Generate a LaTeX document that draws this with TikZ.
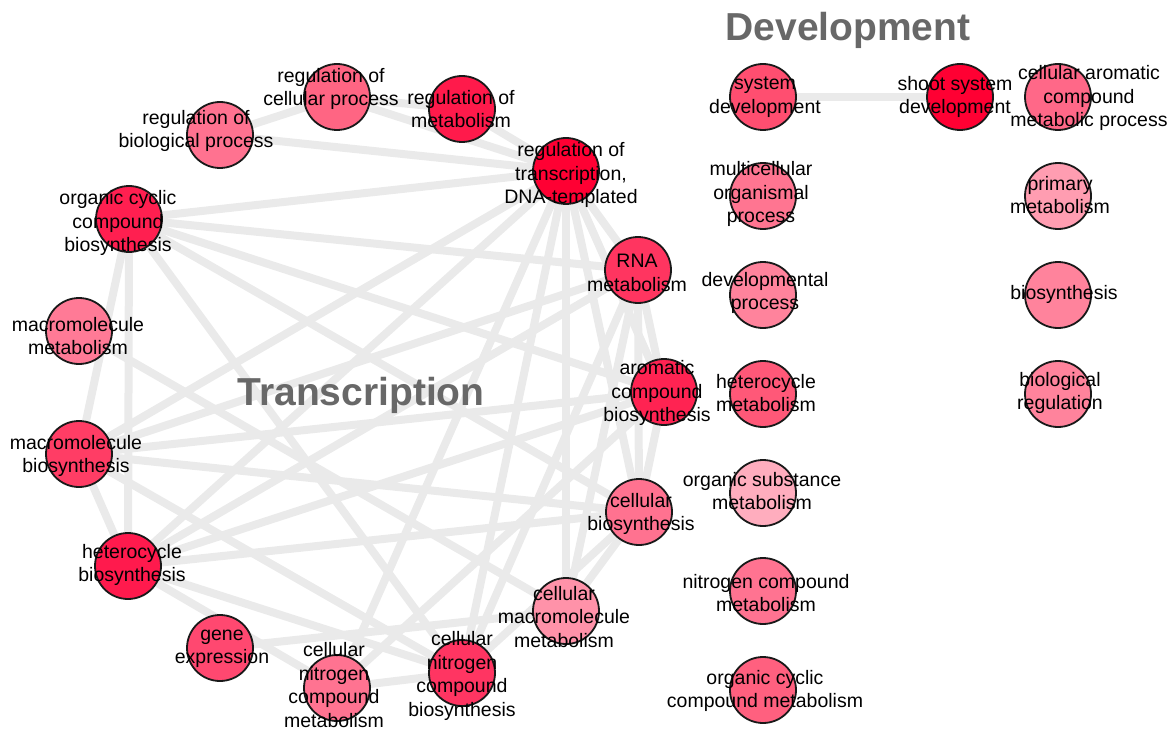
\documentclass[tikz,border=0pt]{standalone}
\usepackage{fontspec}
\setmainfont{Liberation Sans}
\pgfdeclarelayer{bg}
\pgfsetlayers{bg,main}
\definecolor{edgec}{HTML}{EAEAEA}
\definecolor{titc}{HTML}{686868}
\definecolor{cRT}{HTML}{FF0033}
\definecolor{cSSD}{HTML}{FF0033}
\definecolor{cRM}{HTML}{FF1A4B}
\definecolor{cHB}{HTML}{FF1A4D}
\definecolor{cOCCB}{HTML}{FF1F50}
\definecolor{cACB}{HTML}{FF2352}
\definecolor{cRNA}{HTML}{FF3560}
\definecolor{cCNCB}{HTML}{FF3562}
\definecolor{cMB}{HTML}{FF3D65}
\definecolor{cGE}{HTML}{FF4870}
\definecolor{cSD}{HTML}{FF4E70}
\definecolor{cHM}{HTML}{FF5878}
\definecolor{cOCCM}{HTML}{FF607F}
\definecolor{cRCP}{HTML}{FF6583}
\definecolor{cCAC}{HTML}{FF6888}
\definecolor{cRBP}{HTML}{FF7290}
\definecolor{cCB}{HTML}{FF7290}
\definecolor{cCNCM}{HTML}{FF7391}
\definecolor{cMOP}{HTML}{FF7591}
\definecolor{cNCM}{HTML}{FF7391}
\definecolor{cMM}{HTML}{FF7A96}
\definecolor{cDP}{HTML}{FF839C}
\definecolor{cBS}{HTML}{FF839C}
\definecolor{cBR}{HTML}{FF839C}
\definecolor{cCMM}{HTML}{FF92A9}
\definecolor{cPM}{HTML}{FF9DB1}
\definecolor{cOSM}{HTML}{FFADBE}
\begin{document}
\begin{tikzpicture}[x=1pt,y=-1pt,
  term/.style={circle,draw=black!90,line width=1.8pt,minimum size=66pt,inner sep=0pt},
  lab/.style={align=center,inner sep=0pt,font=\fontsize{19.5}{23.5}\selectfont,text=black},
  link/.style={draw=edgec,line width=8pt},
  title/.style={font=\fontsize{39}{44}\selectfont\bfseries,text=titc,inner sep=0pt}]
\useasboundingbox (0,0) rectangle (1172,730);
% Transcription cluster
\node[term,fill=cRBP]  (rbp)  at (220,135) {};
\node[term,fill=cRCP]  (rcp)  at (337,97)  {};
\node[term,fill=cRM]   (rm)   at (462,109) {};
\node[term,fill=cRT]   (rt)   at (566,171) {};
\node[term,fill=cRNA]  (rna)  at (638,270) {};
\node[term,fill=cACB]  (acb)  at (664,392) {};
\node[term,fill=cCB]   (cb)   at (639,512) {};
\node[term,fill=cCMM]  (cmm)  at (566,611) {};
\node[term,fill=cCNCB] (cncb) at (462,673) {};
\node[term,fill=cCNCM] (cncm) at (337,688) {};
\node[term,fill=cGE]   (ge)   at (220,648) {};
\node[term,fill=cHB]   (hb)   at (128,566) {};
\node[term,fill=cMB]   (mb)   at (79,454)  {};
\node[term,fill=cMM]   (mm)   at (79,331)  {};
\node[term,fill=cOCCB] (occb) at (129,219) {};
% Development cluster
\node[term,fill=cSD]   (sd)   at (763,97)  {};
\node[term,fill=cSSD]  (ssd)  at (960,97)  {};
\node[term,fill=cCAC]  (cac)  at (1058,97) {};
\node[term,fill=cMOP]  (mop)  at (763,196) {};
\node[term,fill=cPM]   (pm)   at (1058,196) {};
\node[term,fill=cDP]   (dp)   at (763,295) {};
\node[term,fill=cBS]   (bs)   at (1058,295) {};
\node[term,fill=cHM]   (hm)   at (763,394) {};
\node[term,fill=cBR]   (br)   at (1058,394) {};
\node[term,fill=cOSM]  (osm)  at (763,493) {};
\node[term,fill=cNCM]  (ncm)  at (763,591) {};
\node[term,fill=cOCCM] (occm) at (763,690) {};
% edges
\begin{pgfonlayer}{bg}
\foreach \a/\b in {rbp/rcp, rbp/rt, rcp/rm, rcp/rt, rm/rt,
  occb/rt, occb/rna, occb/acb, occb/cb, occb/cncb, occb/hb, occb/mb,
  mm/cmm, mb/rt, mb/acb, mb/cb, mb/hb, mb/cncb, mb/rna,
  hb/rt, hb/rna, hb/acb, hb/cb, hb/cncb, hb/cncm, ge/cmm,
  cncm/rt, cncm/cncb, acb/cncm, rt/cncb, rt/cmm, rt/cb, rt/acb, rt/rna,
  rna/acb, rna/cb, rna/cmm, rna/cncb, acb/cb, cb/cmm, cb/cncb, sd/ssd}
  \draw[link] (\a) -- (\b);
\end{pgfonlayer}
% titles
\node[title] (ttr) at (361,395) {Transcription};
\node[title] (tdev) at (848,30) {Development};
% labels
\node[lab] (rbpl)  at (196,131) {regulation of\\biological process};
\node[lab] (rcpl)  at (331,89)  {regulation of\\cellular process};
\node[lab] (rml)   at (461,109) {regulation of\\metabolism};
\node[lab] (rtl)   at (571,175) {regulation of\\transcription,\\DNA-templated};
\node[lab] (rnal)  at (637,273) {RNA\\metabolism};
\node[lab] (acbl)  at (657,393) {aromatic\\compound\\biosynthesis};
\node[lab] (cbl)   at (641,514) {cellular\\biosynthesis};
\node[lab] (cmml)  at (564,617) {cellular\\macromolecule\\metabolism};
\node[lab] (cncbl) at (462,676) {cellular\\nitrogen\\compound\\biosynthesis};
\node[lab] (cncml) at (334,685) {cellular\\nitrogen\\compound\\metabolism};
\node[lab] (gel)   at (222,649) {gene\\expression};
\node[lab] (hbl)   at (132,565) {heterocycle\\biosynthesis};
\node[lab] (mbl)   at (76,456)  {macromolecule\\biosynthesis};
\node[lab] (mml)   at (78,336)  {macromolecule\\metabolism};
\node[lab] (occbl) at (118,223) {organic cyclic\\compound\\biosynthesis};
\node[lab] (sdl)   at (765,97)  {system\\development};
\node[lab] (ssdl)  at (955,97)  {shoot system\\development};
\node[lab] (cacl)  at (1089,98) {cellular aromatic\\compound\\metabolic process};
\node[lab] (mopl)  at (761,194) {multicellular\\organismal\\process};
\node[lab] (pml)   at (1060,195) {primary\\metabolism};
\node[lab] (dpl)   at (765,293) {developmental\\process};
\node[lab] (bsl)   at (1064,294) {biosynthesis};
\node[lab] (hml)   at (766,393) {heterocycle\\metabolism};
\node[lab] (brl)   at (1060,393) {biological\\regulation};
\node[lab] (osml)  at (762,491) {organic substance\\metabolism};
\node[lab] (ncml)  at (766,593) {nitrogen compound\\metabolism};
\node[lab] (occml) at (765,691) {organic cyclic\\compound metabolism};
\end{tikzpicture}
\end{document}
